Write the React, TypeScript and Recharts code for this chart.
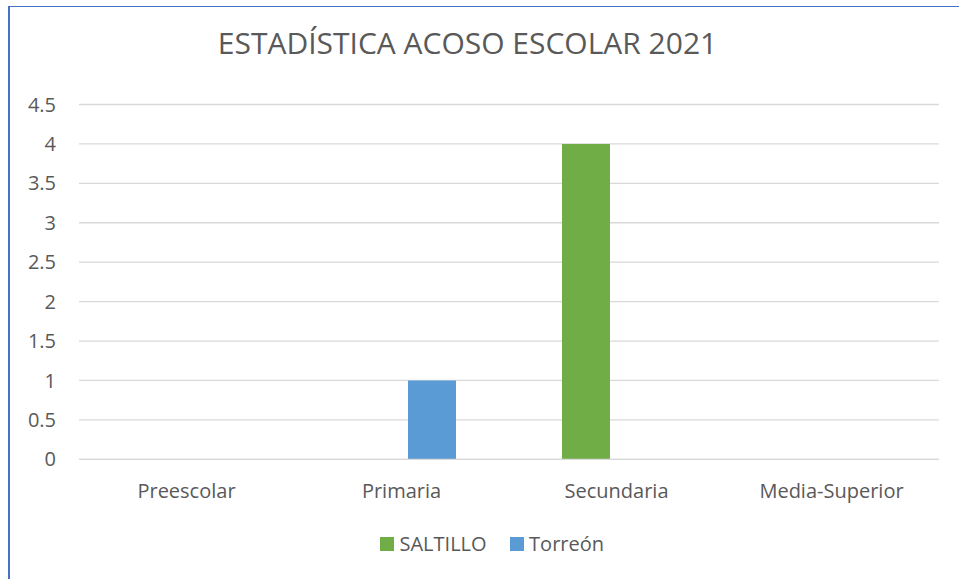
import { Bar, BarChart, CartesianGrid, XAxis, YAxis } from "recharts";

const categories = ["Preescolar", "Primaria", "Secundaria", "Media-Superior"];
const saltillo = [0, 0, 4, 0];
const torreon = [0, 1, 0, 0];
const yTicks = [0, 0.5, 1, 1.5, 2, 2.5, 3, 3.5, 4, 4.5];

const series = [
  { key: "saltillo", name: "SALTILLO", color: "#70AD47" },
  { key: "torreon", name: "Torreón", color: "#5B9BD5" },
];

const rows = categories.map((cat, i) => ({
  cat,
  saltillo: saltillo[i],
  torreon: torreon[i],
}));

const font = "'Open Sans', sans-serif";
const textColor = "#595959";

export default function App() {
  return (
    <div style={{ position: "absolute", left: 0, top: 0, width: 959, height: 579, background: "#fff", fontFamily: font }}>
      <div
        style={{
          position: "absolute",
          left: 8,
          top: 6,
          width: 960,
          height: 580,
          borderLeft: "2px solid #4472C4",
          borderTop: "1.5px solid #4472C4",
        }}
      />
      <div
        style={{
          position: "absolute",
          left: 0,
          width: 935,
          top: 22,
          textAlign: "center",
          fontSize: 30,
          color: textColor,
        }}
      >
        ESTADÍSTICA ACOSO ESCOLAR 2021
      </div>
      <div style={{ position: "absolute", left: 0, top: 0 }}>
        <BarChart
          width={959}
          height={579}
          data={rows}
          margin={{ top: 104.5, right: 20, bottom: 89.7, left: 0 }}
          barSize={48}
          barGap={13}
        >
          <CartesianGrid stroke="#D9D9D9" strokeWidth={1.3} vertical={false} />
          <XAxis
            dataKey="cat"
            height={30}
            axisLine={{ stroke: "#D9D9D9", strokeWidth: 1.3 }}
            tickLine={false}
            tickMargin={18}
            interval={0}
            tick={{ fill: textColor, fontSize: 20, fontFamily: font }}
          />
          <YAxis
            width={79}
            domain={[0, 4.5]}
            ticks={yTicks}
            axisLine={false}
            tickLine={false}
            tickMargin={17}
            tick={{ fill: textColor, fontSize: 20, fontFamily: font }}
          />
          {series.map((s) => (
            <Bar key={s.key} dataKey={s.key} name={s.name} fill={s.color} isAnimationActive={false} />
          ))}
        </BarChart>
      </div>
      <div
        style={{
          position: "absolute",
          left: 380,
          top: 530,
          display: "flex",
          alignItems: "center",
          fontSize: 20,
          color: textColor,
        }}
      >
        {series.map((s) => (
          <div key={s.key} style={{ display: "flex", alignItems: "center", marginRight: 23 }}>
            <span style={{ display: "inline-block", width: 14, height: 14, background: s.color, marginRight: 5.5 }} />
            <span>{s.name}</span>
          </div>
        ))}
      </div>
    </div>
  );
}
